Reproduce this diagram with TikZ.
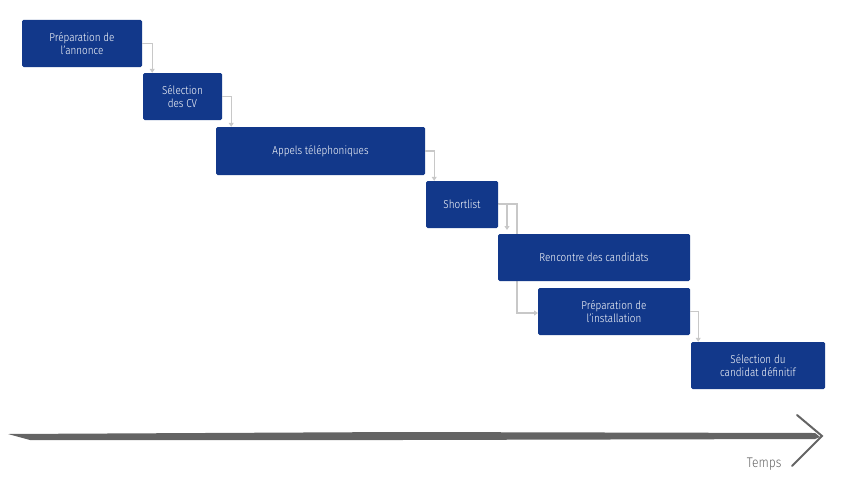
\documentclass[tikz,border=0pt]{standalone}
\usepackage{fontspec}
\setmainfont[FakeStretch=0.86]{Fira Sans Light}
\usetikzlibrary{arrows.meta}
\definecolor{stepblue}{RGB}{18,56,138}
\definecolor{linkgrey}{RGB}{200,200,200}
\definecolor{timegrey}{RGB}{100,100,100}
\begin{document}
\begin{tikzpicture}[x=1pt,y=-1pt,
  stepbox/.style={fill=stepblue,text=white,rounded corners=1.5pt,align=center,inner sep=0pt,font=\fontsize{11.5}{13}\selectfont},
  link/.style={draw=linkgrey,line width=1.3pt,-{Triangle[width=5pt,length=4pt]}}]
  \useasboundingbox (0,0) rectangle (842,487);

  % arrows behind boxes
  \coordinate (c45) at (517,204);
  \draw[link] (498,204) -- (c45) |- (538,313);

  \node[stepbox,minimum width=120pt,minimum height=47pt] (s1) at (82,43.5) {Préparation de\\l'annonce};
  \node[stepbox,minimum width=79pt,minimum height=47pt] (s2) at (182.5,96.5) {Sélection\\des CV};
  \node[stepbox,minimum width=209pt,minimum height=48pt] (s3) at (320.5,151) {Appels téléphoniques};
  \node[stepbox,minimum width=72pt,minimum height=47pt] (s4) at (462,204.5) {Shortlist};
  \node[stepbox,minimum width=192pt,minimum height=47pt] (s5) at (594,257.5) {Rencontre des candidats};
  \node[stepbox,minimum width=152pt,minimum height=47pt] (s6) at (614,311.5) {Préparation de\\l'installation};
  \node[stepbox,minimum width=134pt,minimum height=47pt] (s7) at (758,365.5) {Sélection du\\candidat définitif};

  \draw[link] (s1.east) -| ([xshift=10pt]s1.east |- s2.north);
  \draw[link] (s2.east) -| ([xshift=9pt]s2.east |- s3.north);
  \draw[link] (s3.east) -| ([xshift=9pt]s3.east |- s4.north);
  \draw[link] (s4.east) -| (507,230);
  \draw[link] (s6.east) -| ([xshift=8pt]s6.east |- s7.north);

  % time axis
  \coordinate (t0) at (8,436);
  \coordinate (t1) at (822,436);
  \fill[timegrey] (8,434) -- (400,432) -- (815,433) -- (820,437) -- (815,439) -- (400,440) -- (30,440) -- cycle;
  \draw[timegrey,line width=2pt,line cap=round] (797,415) -- (t1) -- (792,466);
  \node[text=timegrey,anchor=south east,font=\fontsize{14}{16}\selectfont] (temps) at (785,474) {Temps};
\end{tikzpicture}
\end{document}
